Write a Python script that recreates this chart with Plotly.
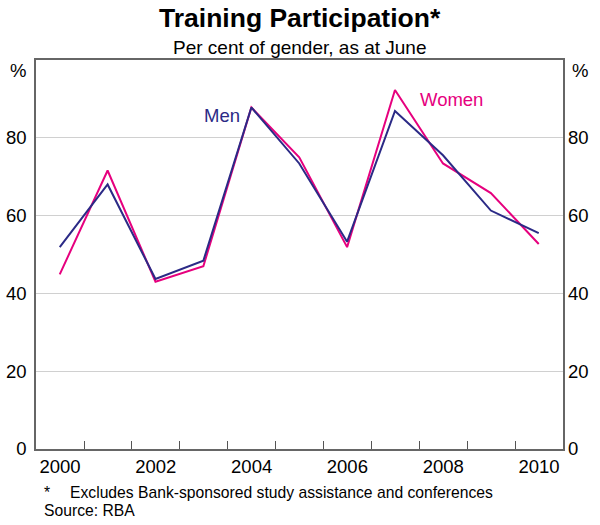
import plotly.graph_objects as go

years = [2000, 2001, 2002, 2003, 2004, 2005, 2006, 2007, 2008, 2009, 2010]
men = [51.9, 68.0, 43.7, 48.4, 87.8, 73.4, 53.3, 86.9, 75.5, 61.3, 55.5]
women = [44.9, 71.6, 43.0, 47.0, 87.8, 75.0, 51.9, 92.3, 73.4, 65.8, 52.7]
y_ticks = [0, 20, 40, 60, 80]
x_label_years = [2000, 2002, 2004, 2006, 2008, 2010]

FONT = "Arial, Liberation Sans, sans-serif"
NAVY = "#2B2A86"
MAGENTA = "#E6007E"

dates = [f"{y}-06-30" for y in years]

fig = go.Figure()
fig.add_trace(go.Scatter(x=dates, y=women, mode="lines", name="Women",
                         line=dict(color=MAGENTA, width=2)))
fig.add_trace(go.Scatter(x=dates, y=men, mode="lines", name="Men",
                         line=dict(color=NAVY, width=2)))
# invisible trace for right axis
fig.add_trace(go.Scatter(x=dates, y=men, mode="lines", yaxis="y2",
                         line=dict(width=0), hoverinfo="skip", showlegend=False, opacity=0))

fig.update_layout(
    width=600, height=525,
    margin=dict(l=36, r=37, t=60, b=76),
    paper_bgcolor="white", plot_bgcolor="white",
    showlegend=False,
    font=dict(family=FONT, color="black", size=18),
    xaxis=dict(
        type="date",
        range=["2000-01-01", "2011-01-01"],
        tickmode="array",
        tickvals=[f"{y}-07-02" for y in x_label_years],
        ticktext=[str(y) for y in x_label_years],
        ticks="", showgrid=False, zeroline=False, automargin=False,
        showline=True, mirror=True, linecolor="#666666", linewidth=1.5,
        tickfont=dict(size=18.5, family=FONT),
        minor=dict(tickmode="array",
                   tickvals=[f"{y}-01-01" for y in years[1:]],
                   ticks="inside", ticklen=8, tickwidth=1, tickcolor="#555555",
                   showgrid=False),
    ),
    yaxis=dict(
        range=[0, 100], tickmode="array", tickvals=y_ticks,
        ticks="", showgrid=True, gridcolor="#d0d0d0", gridwidth=1,
        zeroline=False, showline=True, mirror=True, automargin=False,
        linecolor="#666666", linewidth=1.5,
        tickfont=dict(size=18.5, family=FONT), ticklabelstandoff=4,
    ),
    yaxis2=dict(
        range=[0, 100], tickmode="array", tickvals=y_ticks,
        overlaying="y", side="right", ticks="", showgrid=False,
        zeroline=False, showline=False, automargin=False,
        tickfont=dict(size=18.5, family=FONT), ticklabelstandoff=4,
    ),
)

ann = [
    dict(text="<b>Training Participation*</b>", x=0.5, y=1.109, font=dict(size=26.5)),
    dict(text="Per cent of gender, as at June", x=0.5, y=1.031, font=dict(size=19)),
    dict(text="%", x=-0.034, y=0.974, font=dict(size=18.5)),
    dict(text="%", x=1.032, y=0.974, font=dict(size=18.5)),
    dict(text="Men", x=0.353, y=0.857, font=dict(size=18.5, color=NAVY)),
    dict(text="Women", x=0.7875, y=0.898, font=dict(size=18.5, color=MAGENTA)),
    dict(text="*", x=0.0114, y=-0.111, xanchor="left", font=dict(size=15.7)),
    dict(text="Excludes Bank-sponsored study assistance and conferences", x=0.0607, y=-0.113,
         xanchor="left", font=dict(size=15.7)),
    dict(text="Source: RBA", x=0.0114, y=-0.159, xanchor="left", font=dict(size=15.7)),
]
for a in ann:
    a.setdefault("xanchor", "center")
    fig.add_annotation(xref="paper", yref="paper", showarrow=False, yanchor="middle", **a)

fig.write_html("out.html",
               config={"displayModeBar": False},
               post_script="document.body.style.margin='0';document.body.style.overflow='hidden';")
